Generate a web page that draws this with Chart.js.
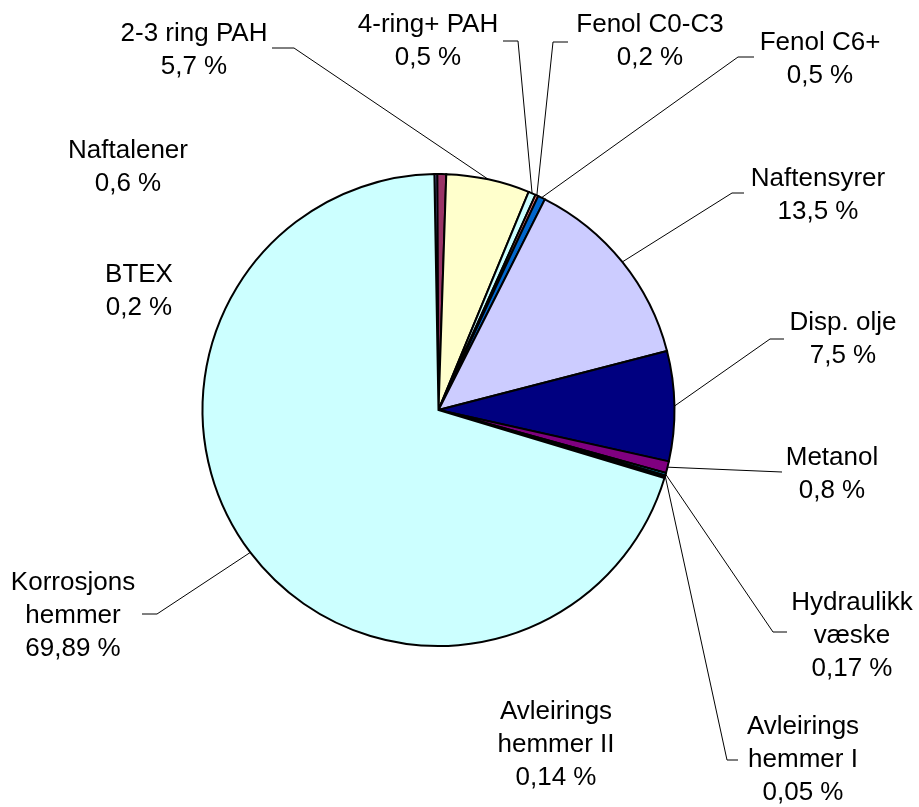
<!DOCTYPE html>
<html>
<head>
<meta charset="utf-8">
<script src="https://cdn.jsdelivr.net/npm/chart.js@4"></script>
<style>
    body { margin: 0; background: #fff; }
    #chart { display: block; }
</style>
</head>
<body>
<canvas id="chart" width="919" height="807"></canvas>
<script>
// Data
var categories = [
    'BTEX', 'Naftalener', '2-3 ring PAH', '4-ring+ PAH', 'Fenol C0-C3', 'Fenol C6+',
    'Naftensyrer', 'Disp. olje', 'Metanol', ['Hydraulikk', 'væske'],
    ['Avleirings', 'hemmer I'], ['Avleirings', 'hemmer II'], ['Korrosjons', 'hemmer']
];
var shares = [0.2, 0.6, 5.7, 0.5, 0.2, 0.5, 13.5, 7.5, 0.8, 0.17, 0.05, 0.14, 69.89];

var colours = [
    '#9999FF', '#993366', '#FFFFCC', '#CCFFFF', '#FF8080', '#0066CC',
    '#CCCCFF', '#000080', '#800080', '#00CCFF', '#0000FF', '#33CCCC', '#CCFFFF'
];

// Label layout: centre x, middle of first line y
var labelPos = [
    [139, 275], [128, 151], [194, 34], [428, 25], [650, 25], [820, 43],
    [818, 179], [843, 323], [832, 458], [852, 603], [803, 727], [556, 712], [73, 583]
];

// Leader lines: elbow and end point, null = no line
var leaders = [
    null, null,
    [[294, 48], [272, 48]],
    [[518, 41], [503, 41]],
    [[553, 42], [568, 42]],
    [[738, 57], [754, 57]],
    [[732, 193], [744, 193]],
    [[770, 339], [784, 339]],
    [[782, 472], [782, 472]],
    [[773, 632], [787, 632]],
    [[727, 760], [738, 760]],
    null,
    [[157, 614], [142, 614]]
];

function formatShare(v) {
    return String(v).replace('.', ',') + ' %';
}

var pieLabels = {
    id: 'pieLabels',
    afterDatasetsDraw: function (chart) {
        var ctx = chart.ctx;
        var arcs = chart.getDatasetMeta(0).data;
        ctx.save();

        // leader lines
        ctx.strokeStyle = '#000';
        ctx.lineWidth = 1;
        arcs.forEach(function (arc, i) {
            var ld = leaders[i];
            if (!ld) return;
            var p = arc.getProps(['x', 'y', 'startAngle', 'endAngle', 'outerRadius'], true);
            var mid = (p.startAngle + p.endAngle) / 2;
            ctx.beginPath();
            ctx.moveTo(p.x + Math.cos(mid) * p.outerRadius, p.y + Math.sin(mid) * p.outerRadius);
            ctx.lineTo(ld[0][0], ld[0][1]);
            ctx.lineTo(ld[1][0], ld[1][1]);
            ctx.stroke();
        });

        // texts
        ctx.fillStyle = '#000';
        ctx.font = '26px "Liberation Sans", Arial, sans-serif';
        ctx.textAlign = 'center';
        ctx.textBaseline = 'middle';
        categories.forEach(function (cat, i) {
            var lines = Array.isArray(cat) ? cat.slice() : [cat];
            lines.push(formatShare(shares[i]));
            var pos = labelPos[i];
            lines.forEach(function (t, j) {
                ctx.fillText(t, pos[0], pos[1] + j * 33);
            });
        });
        ctx.restore();
    }
};

var chart = new Chart(document.getElementById('chart'), {
    type: 'pie',
    data: {
        labels: categories,
        datasets: [{
            data: shares,
            backgroundColor: colours,
            borderColor: '#000',
            borderWidth: 2,
            borderJoinStyle: 'miter'
        }]
    },
    options: {
        responsive: false,
        animation: false,
        rotation: -1,
        layout: { padding: { left: 201, right: 243, top: 173, bottom: 160 } },
        plugins: {
            legend: { display: false },
            tooltip: { enabled: false }
        }
    },
    plugins: [pieLabels]
});
</script>
</body>
</html>
